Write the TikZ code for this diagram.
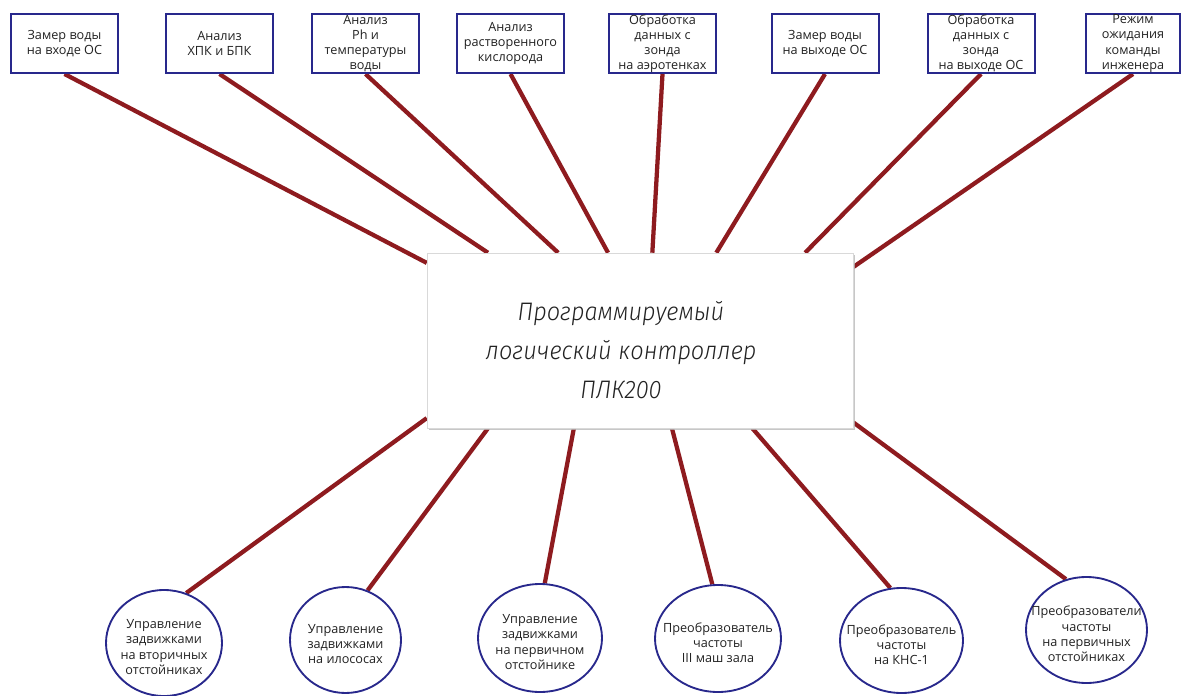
\documentclass[tikz,border=0pt]{standalone}
\usepackage{fontspec}
\setmainfont{Open Sans}
\newfontfamily\gost[FakeStretch=0.93]{Fira Sans Light Italic}
\usetikzlibrary{shapes.geometric,shadows}
\definecolor{wirered}{HTML}{8E1B1F}
\definecolor{framec}{HTML}{28288C}
\definecolor{ink}{HTML}{222222}
\pgfdeclarelayer{bg}
\pgfsetlayers{bg,main}
\begin{document}
\begin{tikzpicture}[x=0.75pt,y=-0.75pt,
  topbox/.style={draw=framec, line width=1.5pt, fill=white, minimum width=80.25pt, minimum height=44.25pt, inner sep=0pt},
  ell/.style={ellipse, draw=framec, line width=1.4pt, fill=white, inner sep=0pt},
  lab/.style={font=\fontsize{9.5}{11.4}\selectfont, text=ink, align=center, inner sep=0pt},
  elab/.style={lab, yshift=-3pt},
  link/.style={draw=wirered, line width=3.2pt}]
\useasboundingbox (0,0) rectangle (1182,696);
% top boxes
\node[topbox, label={[lab]center:{Замер воды\\на входе ОС}}] (b1) at (64.5,43.5) {};
\node[topbox, label={[lab]center:{Анализ\\ХПК и БПК}}] (b2) at (219.5,43.5) {};
\node[topbox, label={[lab]center:{Анализ\\Ph и\\температуры\\воды}}] (b3) at (365.5,43.5) {};
\node[topbox, label={[lab]center:{Анализ\\растворенного\\кислорода}}] (b4) at (510.5,43.5) {};
\node[topbox, label={[lab]center:{Обработка\\данных с\\зонда\\на аэротенках}}] (b5) at (662.5,43.5) {};
\node[topbox, label={[lab]center:{Замер воды\\на выходе ОС}}] (b6) at (825,43.5) {};
\node[topbox, label={[lab]center:{Обработка\\данных с\\зонда\\на выходе ОС}}] (b7) at (981,43.5) {};
\node[topbox, minimum width=70.5pt, label={[lab]center:{Режим\\ожидания\\команды\\инженера}}] (b8) at (1133,43.5) {};
% central controller
\node[draw=gray!30, line width=0.4pt, fill=white, drop shadow={shadow xshift=1.2pt, shadow yshift=-1.2pt, fill=gray!55, opacity=0.8},
  minimum width=319.5pt, minimum height=131.25pt, inner sep=0pt] (c) at (640,340.5) {};
\node[font=\gost\fontsize{19}{29}\selectfont, text=ink, align=center, inner sep=0pt] (ct) at (621,350)
  {Программируемый\\логический контроллер\\ПЛК200};
% bottom ellipses
\node[ell, minimum width=87pt, minimum height=79.5pt, label={[elab]center:{Управление\\задвижками\\на вторичных\\отстойниках}}] (e1) at (164,643) {};
\node[ell, minimum width=83.25pt, minimum height=79.5pt, label={[elab]center:{Управление\\задвижками\\на илососах}}] (e2) at (345.5,640) {};
\node[ell, minimum width=93pt, minimum height=81pt, label={[elab]center:{Управление\\задвижками\\на первичном\\отстойнике}}] (e3) at (540,638) {};
\node[ell, minimum width=94.5pt, minimum height=80.25pt, label={[elab]center:{Преобразователь\\частоты\\III маш зала}}] (e4) at (718,638.5) {};
\node[ell, minimum width=92.25pt, minimum height=78.75pt, label={[elab]center:{Преобразователь\\частоты\\на КНС-1}}] (e5) at (901.5,640.5) {};
\node[ell, minimum width=90.75pt, minimum height=79.5pt, label={[elab]center:{Преобразователи\\частоты\\на первичных\\отстойниках}}] (e6) at (1086.5,630) {};
% connectors
\begin{pgfonlayer}{bg}
\draw[link] (b1.south) -- (c.160.5);
\draw[link] (b2.south) -- (c.150.9);
\draw[link] (b3.south) -- (c.133.1);
\draw[link] (b4.south) -- (c.110.1);
\draw[link] (b5.south) -- (c.82.2);
\draw[link] (b6.south) -- (c.49.4);
\draw[link] (b7.south) -- (c.28.7);
\draw[link] (b8.south) -- (c.19.5);
\draw[link] (c.200.5) -- (e1.66);
\draw[link] (c.210.6) -- (e2.66);
\draw[link] (c.233.4) -- (e3.85);
\draw[link] (c.290.7) -- (e4.96);
\draw[link] (c.322.7) -- (e5.102);
\draw[link] (c.339.1) -- (e6.112);
\end{pgfonlayer}
\end{tikzpicture}
\end{document}
